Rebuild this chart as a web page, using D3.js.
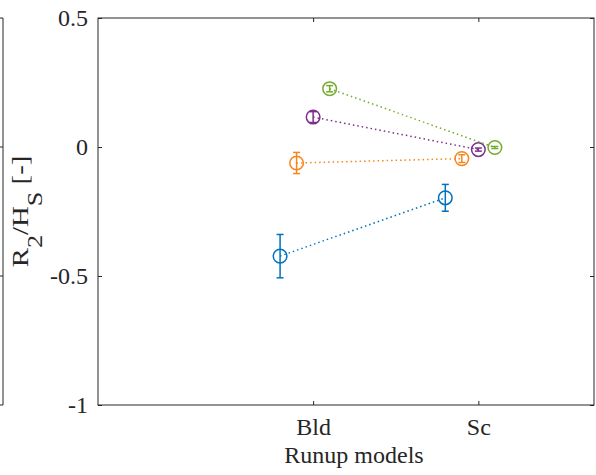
<!DOCTYPE html>
<html>
<head>
<meta charset="utf-8">
<script src="https://cdn.jsdelivr.net/npm/d3@7"></script>
<style>
  body { margin: 0; background: #fff; }
  svg { display: block; font-family: "Liberation Serif", "Times New Roman", serif; }
</style>
</head>
<body>
<svg id="chart" width="596" height="475"></svg>
<script>
// Runup models on the x axis
const models = ["Bld", "Sc"];
const modelPos = [1, 2];

// Each series: mean R2/Hs per model and its error half-width
const seriesNames = ["s1", "s2", "s3", "s4"];
const seriesColors = ["#0072BD", "#F7861B", "#7E2F8E", "#77AC30"];
const seriesOffsets = [-0.2, -0.1, 0, 0.1];
const meanBld = [-0.423, -0.062, 0.116, 0.226];
const meanSc = [-0.197, -0.045, -0.010, -0.002];
const errBld = [0.084, 0.041, 0.021, 0.012];
const errSc = [0.052, 0.015, 0.006, 0.004];

const yTicks = [-1, -0.5, 0, 0.5];
const yTickLabels = ["-1", "-0.5", "0", "0.5"];

const svg = d3.select("#chart");
const mLeft = 98, mRight = 594, mTop = 18, mBottom = 405;

const x = d3.scaleLinear().domain([-0.302, 2.7]).range([mLeft, mRight]);
const y = d3.scaleLinear().domain([-1, 0.5]).range([mBottom, mTop]);

const axisColor = "#262626";
const serif = "Liberation Serif";

// neighbouring panel edge on the far left
const edge = svg.append("g").attr("stroke", axisColor).attr("stroke-width", 1);
edge.append("line").attr("x1", 3).attr("x2", 3).attr("y1", y(0.5)).attr("y2", y(-1));
yTicks.forEach(t => {
  edge.append("line").attr("x1", 0).attr("x2", 3).attr("y1", y(t)).attr("y2", y(t));
});

// axes box
const box = svg.append("g").attr("stroke", axisColor).attr("fill", "none").attr("stroke-width", 1);
box.append("rect").attr("x", mLeft).attr("y", mTop).attr("width", mRight - mLeft).attr("height", mBottom - mTop);

// y axis
const yAxis = d3.axisLeft(y).tickValues(yTicks).tickFormat((d, i) => yTickLabels[i]).tickSize(-4).tickPadding(10);
const gy = svg.append("g").attr("transform", `translate(${mLeft},0)`).call(yAxis);
gy.select(".domain").remove();
gy.selectAll("line").attr("stroke", axisColor);
gy.selectAll("text").attr("fill", axisColor).attr("font-size", 24).attr("font-family", serif);

// right side ticks
const yAxisR = d3.axisRight(y).tickValues(yTicks).tickSize(-4).tickFormat("");
const gyr = svg.append("g").attr("transform", `translate(${mRight},0)`).call(yAxisR);
gyr.select(".domain").remove();
gyr.selectAll("line").attr("stroke", axisColor);

// x axis
const xAxis = d3.axisBottom(x).tickValues(modelPos).tickFormat((d, i) => models[i]).tickSize(-4).tickPadding(13);
const gx = svg.append("g").attr("transform", `translate(0,${mBottom})`).call(xAxis);
gx.select(".domain").remove();
gx.selectAll("line").attr("stroke", axisColor);
gx.selectAll("text").attr("fill", axisColor).attr("font-size", 24).attr("font-family", serif);

// top ticks
const xAxisT = d3.axisTop(x).tickValues(modelPos).tickSize(-4).tickFormat("");
const gxt = svg.append("g").attr("transform", `translate(0,${mTop})`).call(xAxisT);
gxt.select(".domain").remove();
gxt.selectAll("line").attr("stroke", axisColor);

// axis titles
svg.append("text")
  .attr("x", 354)
  .attr("y", 463)
  .attr("text-anchor", "middle")
  .attr("font-size", 24)
  .attr("font-family", serif)
  .attr("fill", axisColor)
  .text("Runup models");

const yl = svg.append("text")
  .attr("transform", `translate(28,${(mTop + mBottom) / 2}) rotate(-90) scale(1.25,1)`)
  .attr("text-anchor", "middle")
  .attr("font-size", 23)
  .attr("font-family", serif)
  .attr("fill", axisColor);
yl.append("tspan").text("R");
yl.append("tspan").attr("font-size", 21).attr("dy", 14).text("2");
yl.append("tspan").attr("dy", -14).text("/H");
yl.append("tspan").attr("font-size", 21).attr("dy", 14).text("S");
yl.append("tspan").attr("dy", -14).text(" [-]");

// series
const data = seriesNames.map((name, i) => ({
  name,
  color: seriesColors[i],
  pts: [
    { x: modelPos[0] + seriesOffsets[i], v: meanBld[i], e: errBld[i] },
    { x: modelPos[1] + seriesOffsets[i], v: meanSc[i], e: errSc[i] }
  ]
}));

const line = d3.line().x(d => x(d.x)).y(d => y(d.v));

const gs = svg.append("g").selectAll("g").data(data).join("g");

gs.append("path")
  .attr("d", d => line(d.pts))
  .attr("fill", "none")
  .attr("stroke", d => d.color)
  .attr("stroke-width", 1.5)
  .attr("stroke-dasharray", "1.5,3");

gs.each(function(d) {
  const g = d3.select(this);
  d.pts.forEach(p => {
    const cx = x(p.x), y0 = y(p.v - p.e), y1 = y(p.v + p.e);
    g.append("line").attr("x1", cx).attr("x2", cx).attr("y1", y0).attr("y2", y1)
      .attr("stroke", d.color).attr("stroke-width", 1.5);
    [y0, y1].forEach(yy => {
      g.append("line").attr("x1", cx - 3.5).attr("x2", cx + 3.5).attr("y1", yy).attr("y2", yy)
        .attr("stroke", d.color).attr("stroke-width", 1.5);
    });
    g.append("circle").attr("cx", cx).attr("cy", y(p.v)).attr("r", 6.8)
      .attr("fill", "none").attr("stroke", d.color).attr("stroke-width", 1.5);
  });
});
</script>
</body>
</html>
